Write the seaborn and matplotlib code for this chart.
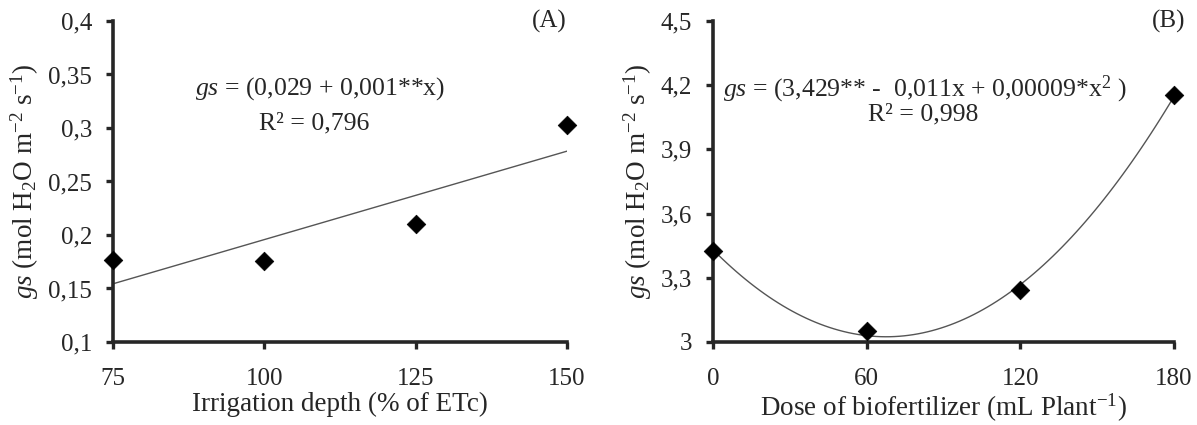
import numpy as np
import pandas as pd
import matplotlib
matplotlib.use("Agg")
import matplotlib.pyplot as plt
import seaborn as sns

# ---------------------------------------
# Data
# ---------------------------------------

irrigation = [75, 100, 125, 150]
gs_irrigation = [0.1765, 0.1759, 0.2103, 0.3028]

dose = [0, 60, 120, 180]
gs_dose = [3.423, 3.053, 3.245, 4.155]

eq_a = r"$\it{gs}$ = (0,029 + 0,001**x)"
r2_a = "R² = 0,796"
eq_b = r"$\it{gs}$ = (3,429** -  0,011x + 0,00009*x$^{2}$ )"
r2_b = "R² = 0,998"

ylabel = r"$\it{gs}$ (mol H$_2$O m$^{-2}$ s$^{-1}$)"

df_a = pd.DataFrame({"x": irrigation, "y": gs_irrigation})
df_b = pd.DataFrame({"x": dose, "y": gs_dose})

# ---------------------------------------
# Style
# ---------------------------------------

sns.set_style("ticks")
plt.rcParams["font.family"] = ["Liberation Serif", "DejaVu Serif"]
plt.rcParams["mathtext.fontset"] = "custom"
plt.rcParams["mathtext.rm"] = "Liberation Serif"
plt.rcParams["mathtext.it"] = "Liberation Serif:italic"
plt.rcParams["mathtext.bf"] = "Liberation Serif:bold"

fig = plt.figure(figsize=(11.97, 4.25), dpi=100)
ax_a = fig.add_axes([0.0944, 0.1953, 0.3793, 0.7553])
ax_b = fig.add_axes([0.5957, 0.1953, 0.3851, 0.7553])

fs = 18      # tick labels
fs_lab = 19.5  # axis labels
fs_txt = 18.5  # equations


def panel(ax, df, order, xticks, yticks, ylim):
    sns.regplot(
        data=df, x="x", y="y", order=order, ci=None, ax=ax,
        marker="D",
        scatter_kws={"s": 90, "color": "black", "alpha": 1, "zorder": 5,
                     "clip_on": False, "linewidths": 0.5},
        line_kws={"color": "#555555", "lw": 1.0},
    )
    ax.set_xlim(xticks[0], xticks[-1])
    ax.set_ylim(*ylim)
    ax.set_xticks(xticks)
    ax.set_yticks(yticks)
    ax.set_yticklabels([f"{v:g}".replace(".", ",") for v in yticks], fontsize=fs)
    ax.set_xticklabels([str(v) for v in xticks], fontsize=fs)
    ax.set_ylabel(ylabel, fontsize=fs_lab, labelpad=5)
    sns.despine(ax=ax)
    for s in ["left", "bottom"]:
        ax.spines[s].set_linewidth(2.6)
    ax.tick_params(direction="out", length=5, width=2.4)
    ax.tick_params(axis="y", pad=10)
    ax.tick_params(axis="x", pad=14)


panel(ax_a, df_a, 1, [75, 100, 125, 150],
      [0.1, 0.15, 0.2, 0.25, 0.3, 0.35, 0.4], (0.1, 0.4))
ax_a.set_xlabel("Irrigation depth (% of ETc)", fontsize=fs_lab, labelpad=1)
ax_a.text(109.2, 0.337, eq_a, fontsize=fs_txt, ha="center", va="center")
ax_a.text(108.2, 0.304, r2_a, fontsize=fs_txt, ha="center", va="center")
ax_a.text(1.0, 1.0, "(A)", transform=ax_a.transAxes, fontsize=fs,
          ha="right", va="center")

panel(ax_b, df_b, 2, [0, 60, 120, 180],
      [3.0, 3.3, 3.6, 3.9, 4.2, 4.5], (3.0, 4.5))
ax_b.set_xlabel("Dose of biofertilizer (mL Plant$^{-1}$)", fontsize=fs_lab, labelpad=1)
ax_b.text(82.8, 4.179, eq_b, fontsize=fs_txt, ha="center", va="center")
ax_b.text(82.0, 4.061, r2_b, fontsize=fs_txt, ha="center", va="center")
ax_b.text(1.025, 1.0, "(B)", transform=ax_b.transAxes, fontsize=fs,
          ha="right", va="center")

fig.savefig("out.png", dpi=100)
plt.close(fig)
